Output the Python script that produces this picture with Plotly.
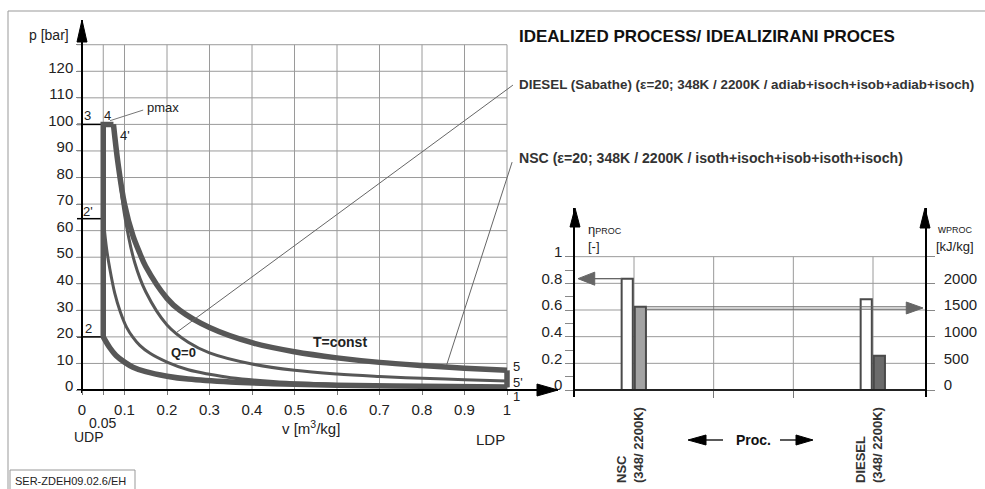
import plotly.graph_objects as go

W, H = 985, 489
FONT = "Liberation Sans, Arial, sans-serif"
CURVE = "#575757"
GRID = "#9a9a9a"

# ---------------- data ----------------
# p-v diagram, state points
v_udp, v_ldp = 0.05, 1.0
p_1, p_2, p_2d, p_3 = 1.0, 20.0, 64.5, 100.0
v_4 = 0.074
p_5, p_5d = 7.4, 3.4

# NSC isothermal compression 1 -> 2
v_nsc_comp = [1.0, 0.8, 0.6, 0.45, 0.35, 0.25, 0.2, 0.15, 0.12, 0.1, 0.08, 0.065, 0.05]
p_nsc_comp = [1.1, 1.4, 1.8, 2.4, 3.0, 4.1, 5.2, 6.9, 8.6, 10.5, 13.0, 16.0, 20.0]
# DIESEL adiabatic compression 1 -> 2'
v_ds_comp = [1.0, 0.8, 0.6, 0.45, 0.35, 0.3, 0.25, 0.2, 0.16, 0.136, 0.12, 0.105, 0.09, 0.077, 0.065, 0.058, 0.05]
p_ds_comp = [1.0, 1.4, 2.1, 3.2, 4.6, 5.9, 7.6, 10.5, 13.8, 16.8, 19.8, 23.6, 29.5, 36.5, 46.0, 53.0, 64.5]
# NSC isothermal expansion 4 -> 5 (T=const)
v_nsc_exp = [0.074, 0.085, 0.1, 0.12, 0.136, 0.15, 0.2, 0.23, 0.3, 0.4, 0.5, 0.6, 0.7, 0.8, 0.9, 1.0]
p_nsc_exp = [100, 85, 70, 58, 51.5, 46.5, 34.5, 30, 23.5, 17.8, 14.4, 12.1, 10.4, 9.2, 8.2, 7.4]
# DIESEL adiabatic expansion 4' -> 5' (Q=0)
v_ds_exp = [0.074, 0.085, 0.1, 0.124, 0.15, 0.2, 0.25, 0.3, 0.4, 0.5, 0.6, 0.7, 0.8, 0.9, 1.0]
p_ds_exp = [100, 85, 66, 48, 37, 24.5, 18, 14, 9.8, 7.4, 6.0, 5.1, 4.4, 3.9, 3.4]

v_ticks = [0, 0.05, 0.1, 0.2, 0.3, 0.4, 0.5, 0.6, 0.7, 0.8, 0.9, 1.0]
v_ticktext = ["0", " ", "0.1", "0.2", "0.3", "0.4", "0.5", "0.6", "0.7", "0.8", "0.9", "1"]
p_ticks = [0, 10, 20, 30, 40, 50, 60, 70, 80, 90, 100, 110, 120, 130]
p_ticktext = [str(t) for t in p_ticks[:-1]] + [" "]

# bar chart
processes = ["NSC", "DIESEL"]
proc_x = [1, 4]
proc_labels = ["NSC<br>(348/ 2200K)", "DIESEL<br>(348/ 2200K)"]
eta_proc = [0.835, 0.68]
w_proc = [1560, 640]
w_colors = ["#a3a3a3", "#6b6b6b"]
eta_ticks = [0, 0.1, 0.2, 0.3, 0.4, 0.5, 0.6, 0.7, 0.8, 0.9, 1.0]
eta_ticktext = ["0", " ", "0.2", " ", "0.4", " ", "0.6", " ", "0.8", " ", "1"]
w_ticks = [0, 500, 1000, 1500, 2000, 2500]
w_ticktext = ["0", "500", "1000", "1500", "2000", " "]
grid_cats = [1, 2, 3, 4]

# ---------------- layout geometry ----------------
def fx(px):
    return px / W

def fy(py):
    return 1 - py / H

# left panel: v=0 at 82px, 425px per unit; p=0 at 390px, 2.656px per bar
LX0, LX1, LYT, LYB = 77, 558, 20, 393
xr_l = [(LX0 - 82) / 425, (LX1 - 82) / 425]
yr_l = [(390 - LYB) / 2.656, (390 - LYT) / 2.656]
# right panel: cat 1 at 634px, 79.67px per unit; eta=0 at 390px, 133.33px per unit
RX0, RX1, RYT, RYB = 575, 925, 208, 397
xr_r = [1 + (RX0 - 634) / 79.67, 1 + (RX1 - 634) / 79.67]
yr_r = [(390 - RYB) / 133.33, (390 - RYT) / 133.33]
yr_w = [yr_r[0] * 2500, yr_r[1] * 2500]

fig = go.Figure()

def line_tr(x, y, width, spline=False):
    fig.add_trace(go.Scatter(
        x=x, y=y, mode="lines", xaxis="x", yaxis="y", hoverinfo="skip",
        line=dict(color=CURVE, width=width, shape="spline" if spline else "linear",
                  smoothing=1.0),
        showlegend=False))

# DIESEL (medium lines)
line_tr(v_ds_comp, p_ds_comp, 3, True)
line_tr(v_ds_exp, p_ds_exp, 3, True)
line_tr([v_ldp, v_ldp], [p_5d, p_1], 3)
# NSC (thick lines)
line_tr(v_nsc_comp, p_nsc_comp, 5.5, True)
line_tr([v_udp, v_udp, v_4], [p_2, p_3, p_3], 5.5)
line_tr(v_nsc_exp, p_nsc_exp, 5.5, True)
line_tr([v_ldp, v_ldp], [p_5, p_1], 5.5)

# bars
fig.add_trace(go.Bar(
    x=proc_x, y=eta_proc, xaxis="x2", yaxis="y2", width=0.14, offset=-0.155,
    marker=dict(color="white", line=dict(color="#4a4a4a", width=2)),
    showlegend=False, hoverinfo="skip"))
fig.add_trace(go.Bar(
    x=proc_x, y=w_proc, xaxis="x2", yaxis="y3", width=0.14, offset=0.01,
    marker=dict(color=w_colors, line=dict(color="#4a4a4a", width=2)),
    showlegend=False, hoverinfo="skip"))

shapes = []
# left grid
for v in v_ticks[1:]:
    shapes.append(dict(type="line", xref="x", yref="y", x0=v, x1=v, y0=0, y1=p_ticks[-1],
                       line=dict(color=GRID, width=1), layer="below"))
for p in p_ticks[1:]:
    shapes.append(dict(type="line", xref="x", yref="y", x0=xr_l[0], x1=v_ldp, y0=p, y1=p,
                       line=dict(color=GRID, width=1), layer="below"))
# reference lines 3, 2', 2
for p in [p_3, p_2d, p_2]:
    shapes.append(dict(type="line", xref="x", yref="y", x0=xr_l[0], x1=v_udp, y0=p, y1=p,
                       line=dict(color="black", width=1.5), layer="below"))
# leader lines
shapes.append(dict(type="line", xref="x", yref="y", x0=0.066, y0=101.4, x1=0.144, y1=105.4,
                   line=dict(color="#777", width=1)))
shapes.append(dict(type="line", xref="x", yref="y", x0=0.2235, y0=21.8, x1=1.014, y1=114.8,
                   line=dict(color="#666", width=1)))
shapes.append(dict(type="line", xref="x", yref="y", x0=0.858, y0=9.4, x1=1.012, y1=85.8,
                   line=dict(color="#666", width=1)))

# right grid
for e in [0.2, 0.4, 0.6, 0.8, 1.0]:
    shapes.append(dict(type="line", xref="x2", yref="y2", x0=xr_r[0], x1=xr_r[1], y0=e, y1=e,
                       line=dict(color=GRID, width=1), layer="below"))
for c in grid_cats:
    shapes.append(dict(type="line", xref="x2", yref="y2", x0=c, x1=c, y0=0, y1=1.0,
                       line=dict(color=GRID, width=1), layer="below"))

# data-linked arrows in bar panel
e0 = eta_proc[0]
xt = 1 + (578 - 634) / 79.67
shapes.append(dict(type="line", xref="x2", yref="y2", x0=xt + 0.2, x1=proc_x[0] - 0.155, y0=e0, y1=e0,
                   line=dict(color="#666", width=1.3)))
shapes.append(dict(type="path", xref="x2", yref="y2",
                   path=f"M{xt},{e0} L{xt+0.21},{e0+0.049} L{xt+0.21},{e0-0.049} Z",
                   fillcolor="#666", line=dict(color="#666", width=1)))
w0 = w_proc[0]
xt2 = 1 + (923 - 634) / 79.67
for dw in [0, -45]:
    shapes.append(dict(type="line", xref="x2", yref="y3", x0=proc_x[0] + 0.155, x1=xt2 - 0.2,
                       y0=w0 + dw, y1=w0 + dw, line=dict(color="#666", width=1)))
shapes.append(dict(type="path", xref="x2", yref="y3",
                   path=f"M{xt2},{w0-22} L{xt2-0.21},{w0-22+112} L{xt2-0.21},{w0-22-112} Z",
                   fillcolor="#666", line=dict(color="#666", width=1)))

# axis arrow heads (paper)
def head(tx, ty, d, length, half, color="black"):
    if d == "up":
        pts = [(tx, ty), (tx - half, ty + length), (tx + half, ty + length)]
    elif d == "right":
        pts = [(tx, ty), (tx - length, ty - half), (tx - length, ty + half)]
    else:
        pts = [(tx, ty), (tx + length, ty - half), (tx + length, ty + half)]
    path = "M" + " L".join(f"{fx(a)},{fy(b)}" for a, b in pts) + " Z"
    return dict(type="path", xref="paper", yref="paper", path=path,
                fillcolor=color, line=dict(color=color, width=1))

shapes.append(head(82, 20, "up", 22, 5))
shapes.append(head(558, 390, "right", 21, 6))
shapes.append(head(575, 208, "up", 19, 5))
shapes.append(head(925, 208, "up", 20, 5))
# Proc. arrows
shapes.append(dict(type="line", xref="paper", yref="paper", x0=fx(705), x1=fx(723), y0=fy(440), y1=fy(440),
                   line=dict(color="black", width=1.3)))
shapes.append(head(688, 440, "left", 18, 5))
shapes.append(dict(type="line", xref="paper", yref="paper", x0=fx(780), x1=fx(797), y0=fy(440), y1=fy(440),
                   line=dict(color="black", width=1.3)))
shapes.append(head(813, 440, "right", 17, 5))
# frame and footer box
shapes.append(dict(type="line", xref="paper", yref="paper", x0=fx(8), x1=1, y0=fy(11), y1=fy(11),
                   line=dict(color="#999", width=1)))
shapes.append(dict(type="line", xref="paper", yref="paper", x0=fx(8), x1=fx(8), y0=fy(11), y1=0,
                   line=dict(color="#999", width=1)))
shapes.append(dict(type="rect", xref="paper", yref="paper", x0=fx(10), x1=fx(135), y0=fy(470), y1=fy(492),
                   line=dict(color="#999", width=1)))

ann = []
def txt(x, y, s, size=13, xref="x", yref="y", xa="center", ya="middle", color="#222", bold=False, **kw):
    ann.append(dict(x=x, y=y, xref=xref, yref=yref, text=f"<b>{s}</b>" if bold else s,
                    showarrow=False, xanchor=xa, yanchor=ya,
                    font=dict(family=FONT, size=size, color=color), **kw))

def ptxt(px, py, s, size=13, **kw):
    txt(fx(px), fy(py), s, size=size, xref="paper", yref="paper", **kw)

# left panel labels
txt(0.014, 103.5, "3")
txt(0.061, 103.5, "4")
txt(0.1, 96.0, "4'")
txt(0.148, 106.4, "pmax", xa="left")
txt(0.014, 67.3, "2'")
txt(0.016, 23.2, "2")
txt(0.238, 14.0, "Q=0", bold=True)
txt(0.607, 18.2, "T=const", size=14, bold=True)
txt(1.023, 8.8, "5")
txt(1.026, 3.0, "5'")
ptxt(516, 396, "1")
ptxt(490, 439, "LDP", size=15)
ptxt(102, 422.5, "0.05", size=14)
ptxt(89, 436.5, "UDP", size=14)
ptxt(311, 427, "v [m<sup>3</sup>/kg]", size=15)
ptxt(49, 35, "p [bar]", size=14)

# header texts
ptxt(517, 37, "IDEALIZED PROCESS/ IDEALIZIRANI PROCES", size=17, xa="left", color="#111", bold=True)
ptxt(517, 85, "DIESEL (Sabathe) (\u03b5=20; 348K / 2200K / adiab+isoch+isob+adiab+isoch)", size=13.4,
     xa="left", color="#333", bold=True)
ptxt(517, 158, "NSC (\u03b5=20; 348K / 2200K / isoth+isoch+isob+isoth+isoch)", size=14.1,
     xa="left", color="#333", bold=True)

# bar panel labels
ptxt(586, 229, "\u03b7<span style='font-size:9px'>PROC</span>", size=13, xa="left")
ptxt(586, 246, "[-]", size=13, xa="left")
ptxt(935, 229, "w<span style='font-size:9px'>PROC</span>", size=11, xa="left")
ptxt(934, 246, "[kJ/kg]", size=13, xa="left")
for cx, lab in zip(proc_x, proc_labels):
    ann.append(dict(x=cx, y=fy(445), xref="x2", yref="paper", text=f"<b>{lab}</b>", showarrow=False,
                    textangle=-90, xanchor="center", yanchor="middle", align="left", xshift=-4,
                    font=dict(family=FONT, size=13, color="#333")))
ptxt(753, 440, "Proc.", size=14, bold=True, color="#111")
ptxt(13, 481, "SER-ZDEH09.02.6/EH", size=11, xa="left", color="#222")

tickfont = dict(family=FONT, size=15, color="#222")
fig.update_layout(
    width=W, height=H, margin=dict(l=0, r=0, t=0, b=0),
    paper_bgcolor="white", plot_bgcolor="rgba(0,0,0,0)",
    barmode="overlay", showlegend=False,
    xaxis=dict(domain=[fx(LX0), fx(LX1)], range=xr_l, anchor="free", position=fy(390),
               showgrid=False, zeroline=False, showline=True, linecolor="black", linewidth=1.5,
               tickmode="array", tickvals=v_ticks, ticktext=v_ticktext, ticks="outside",
               ticklen=4, tickcolor="#777", tickfont=tickfont, ticklabelstandoff=2),
    yaxis=dict(domain=[fy(LYB), fy(LYT)], range=yr_l, anchor="free", position=fx(82),
               showgrid=False, zeroline=False, showline=True, linecolor="black", linewidth=1.5,
               tickmode="array", tickvals=p_ticks, ticktext=p_ticktext, ticks="outside",
               ticklen=5, tickcolor="#888", tickfont=tickfont, ticklabelshift=-4),
    xaxis2=dict(domain=[fx(RX0), fx(RX1)], range=xr_r, anchor="free", position=fy(390),
                showgrid=False, zeroline=False, showline=True, linecolor="#222", linewidth=1.5,
                tickmode="array", tickvals=[2, 3], showticklabels=False, ticks="outside",
                ticklen=7, tickcolor="#777"),
    yaxis2=dict(domain=[fy(RYB), fy(RYT)], range=yr_r, anchor="x2",
                showgrid=False, zeroline=False, showline=True, linecolor="black", linewidth=1.5,
                tickmode="array", tickvals=eta_ticks, ticktext=eta_ticktext, ticks="outside",
                ticklen=8, tickcolor="#888", tickfont=tickfont, ticklabelshift=-5),
    yaxis3=dict(domain=[fy(RYB), fy(RYT)], range=yr_w, anchor="x2", overlaying="y2", side="right",
                showgrid=False, zeroline=False, showline=True, linecolor="black", linewidth=1.5,
                tickmode="array", tickvals=w_ticks, ticktext=w_ticktext, ticks="outside",
                ticklen=8, tickcolor="#888", tickfont=tickfont, ticklabelshift=-5,
                ticklabelstandoff=6),
    shapes=shapes, annotations=ann,
)

fig.write_html("out.html")
